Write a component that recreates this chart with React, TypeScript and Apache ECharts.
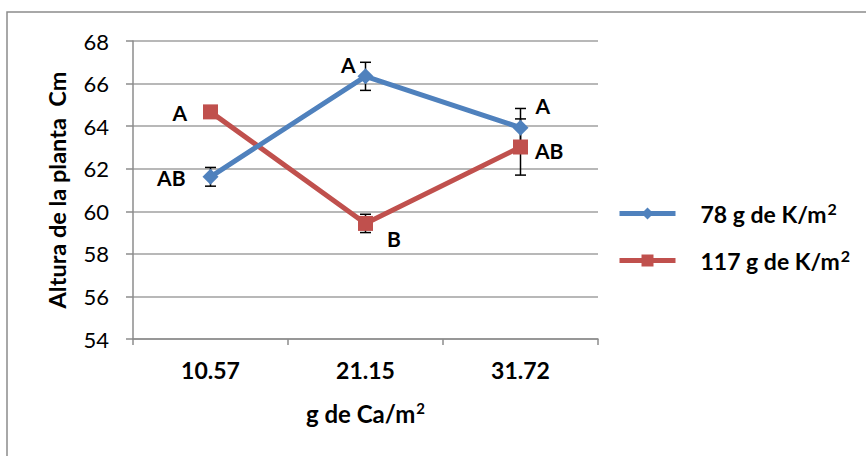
import React, { useEffect, useRef } from "react";
import * as echarts from "echarts";

// Calcium dose (g de Ca/m²) on the x axis
const categories = ["10.57", "21.15", "31.72"];

// Plant height (cm) for each potassium dose
const seriesNames = ["78 g de K/m", "117 g de K/m"];
const heightK78 = [61.62, 66.34, 63.93];
const heightK117 = [64.67, 59.43, 63.02];

// Error bar half-widths
const errK78 = [0.44, 0.66, 0.9];
const errK117 = [0.25, 0.43, 1.32];

// Mean-separation letters
const lettersK78 = ["AB", "A", "A"];
const lettersK117 = ["A", "B", "AB"];

// Y axis ticks
const yMin = 54;
const yMax = 68;
const yStep = 2;

const BLUE = "#4F81BD";
const RED = "#C0504D";
const FONT = "Lato, 'Open Sans', sans-serif";

// label placement per point (position, distance, offset)
const placeK78: any[] = [
  { position: "left", distance: 17, offset: [0, 1] },
  { position: "left", distance: 2, offset: [0, -12] },
  { position: "right", distance: 7, offset: [0, -22] },
];
const placeK117: any[] = [
  { position: "left", distance: 16, offset: [0, 1] },
  { position: "right", distance: 14, offset: [0, 15] },
  { position: "right", distance: 7, offset: [0, 3] },
];

function errorRows(means: number[], errs: number[]) {
  return means.map((m, i) => [i, m - errs[i], m + errs[i]]);
}

function errorSeries(means: number[], errs: number[]) {
  return {
    type: "custom",
    z: 1,
    silent: true,
    data: errorRows(means, errs),
    renderItem: (_params: any, api: any) => {
      const x = api.value(0);
      const top = api.coord([x, api.value(2)]);
      const bot = api.coord([x, api.value(1)]);
      const hw = 5.5;
      const style = { stroke: "#000", lineWidth: 1.5 };
      return {
        type: "group",
        children: [
          { type: "line", shape: { x1: top[0], y1: top[1], x2: bot[0], y2: bot[1] }, style },
          { type: "line", shape: { x1: top[0] - hw, y1: top[1], x2: top[0] + hw, y2: top[1] }, style },
          { type: "line", shape: { x1: bot[0] - hw, y1: bot[1], x2: bot[0] + hw, y2: bot[1] }, style },
        ],
      };
    },
  };
}

function pointData(values: number[], letters: string[], place: any[]) {
  return values.map((v, i) => ({
    value: v,
    label: {
      show: true,
      formatter: letters[i],
      position: place[i].position,
      distance: place[i].distance,
      offset: place[i].offset,
      color: "#000",
      fontFamily: FONT,
      fontWeight: "bold",
      fontSize: 21,
    },
  }));
}

export default function App() {
  const ref = useRef<HTMLDivElement>(null);

  useEffect(() => {
    if (!ref.current) return;
    document.body.style.margin = "0";
    const chart = echarts.init(ref.current, null, { renderer: "svg" });
    chart.setOption({
      animation: false,
      backgroundColor: "#fff",
      textStyle: { fontFamily: FONT },
      graphic: [
        {
          type: "rect",
          shape: { x: 7, y: 12, width: 900, height: 500 },
          style: { fill: "none", stroke: "#8c8c8c", lineWidth: 1.5 },
          z: -1,
        },
      ],
      grid: { left: 133, right: 268, top: 41, bottom: 117, containLabel: false },
      legend: {
        orient: "vertical",
        left: 617,
        top: 200,
        padding: 0,
        itemWidth: 56,
        itemHeight: 15,
        itemGap: 22,
        data: seriesNames,
        lineStyle: { width: 5 },
        formatter: (name: string) => `${name}{sup|2}`,
        textStyle: {
          fontFamily: FONT,
          fontWeight: "bold",
          fontSize: 23,
          color: "#000",
          padding: [0, 0, 0, 20],
          rich: {
            sup: {
              fontFamily: FONT,
              fontWeight: "bold",
              fontSize: 16,
              color: "#000",
              padding: [0, 0, 11, 1],
            },
          },
        },
      },
      xAxis: {
        type: "category",
        data: categories,
        boundaryGap: true,
        name: "g de Ca/m{sup|2}",
        nameLocation: "middle",
        nameGap: 61,
        nameTextStyle: {
          fontFamily: FONT,
          fontWeight: "bold",
          fontSize: 24,
          color: "#000",
          rich: {
            sup: {
              fontFamily: FONT,
              fontWeight: "bold",
              fontSize: 15,
              color: "#000",
              padding: [0, 0, 11, 1],
            },
          },
        },
        axisLine: { lineStyle: { color: "#8c8c8c", width: 1.5 } },
        axisTick: { show: true, length: 6, lineStyle: { color: "#8c8c8c", width: 1.5 } },
        axisLabel: {
          margin: 19,
          fontFamily: FONT,
          fontWeight: "bold",
          fontSize: 23,
          color: "#000",
        },
        splitLine: { show: false },
      },
      yAxis: {
        type: "value",
        min: yMin,
        max: yMax,
        interval: yStep,
        name: "Altura de la planta  Cm",
        nameLocation: "middle",
        nameGap: 64,
        nameTextStyle: {
          fontFamily: FONT,
          fontWeight: "bold",
          fontSize: 23.5,
          color: "#000",
        },
        axisLine: { show: true, lineStyle: { color: "#8c8c8c", width: 1.5 } },
        axisTick: { show: true, length: 7, lineStyle: { color: "#8c8c8c", width: 1.5 } },
        axisLabel: {
          margin: 24,
          fontFamily: FONT,
          fontSize: 22,
          color: "#000",
        },
        splitLine: { show: true, lineStyle: { color: "#a0a0a0", width: 1.5 } },
      },
      series: [
        errorSeries(heightK78, errK78),
        errorSeries(heightK117, errK117),
        {
          name: seriesNames[0],
          type: "line",
          z: 3,
          data: pointData(heightK78, lettersK78, placeK78),
          symbol: "diamond",
          symbolSize: 16,
          itemStyle: { color: BLUE },
          lineStyle: { color: BLUE, width: 5 },
        },
        {
          name: seriesNames[1],
          type: "line",
          z: 2,
          data: pointData(heightK117, lettersK117, placeK117),
          symbol: "rect",
          symbolSize: 15,
          itemStyle: { color: RED },
          lineStyle: { color: RED, width: 5 },
        },
      ],
    });
    return () => chart.dispose();
  }, []);

  return <div ref={ref} style={{ width: 866, height: 456 }} />;
}
